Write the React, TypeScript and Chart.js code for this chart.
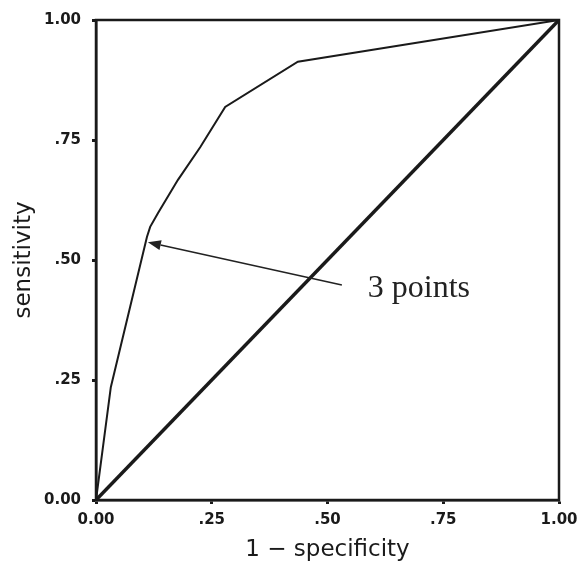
import React, { useEffect, useRef } from "react";
import { Chart, registerables } from "chart.js";

Chart.register(...registerables);

// ROC curve (1 - specificity, sensitivity)
const rocX = [0, 0.032, 0.11, 0.117, 0.134, 0.177, 0.225, 0.279, 0.436, 1];
const rocY = [0, 0.235, 0.548, 0.569, 0.598, 0.667, 0.735, 0.819, 0.913, 1];
// chance diagonal
const diagX = [0, 1];
const diagY = [0, 1];

const tickValues = [0, 0.25, 0.5, 0.75, 1];
const tickLabels = ["0.00", ".25", ".50", ".75", "1.00"];

const xTitle = "1 − specificity";
const yTitle = "sensitivity";
const annotationText = "3 points";
const arrowTail = [0.531, 0.448];
const arrowHead = [0.112, 0.537];
const labelPos = [0.587, 0.423];

const TICK_FONT = { family: "'DejaVu Sans', sans-serif", size: 15, weight: "bold" as const };
const TITLE_FONT = { family: "'DejaVu Sans', sans-serif", size: 23, weight: "normal" as const, lineHeight: 1.0 };

const frameAndArrowPlugin = {
  id: "frameAndArrow",
  afterDatasetsDraw(chart: any) {
    const { ctx, chartArea, scales } = chart;
    const xs = scales.x;
    const ys = scales.y;
    ctx.save();
    // frame
    ctx.strokeStyle = "#1a1a1a";
    ctx.lineWidth = 2.5;
    ctx.strokeRect(chartArea.left, chartArea.top, chartArea.right - chartArea.left, chartArea.bottom - chartArea.top);

    // arrow
    const tx = xs.getPixelForValue(arrowTail[0]);
    const ty = ys.getPixelForValue(arrowTail[1]);
    const hx = xs.getPixelForValue(arrowHead[0]);
    const hy = ys.getPixelForValue(arrowHead[1]);
    const ang = Math.atan2(hy - ty, hx - tx);
    const headLen = 13;
    const headHalf = 5;
    const bx = hx - headLen * Math.cos(ang);
    const by = hy - headLen * Math.sin(ang);
    ctx.strokeStyle = "#222";
    ctx.lineWidth = 1.6;
    ctx.beginPath();
    ctx.moveTo(tx, ty);
    ctx.lineTo(bx, by);
    ctx.stroke();
    ctx.fillStyle = "#222";
    ctx.beginPath();
    ctx.moveTo(hx, hy);
    ctx.lineTo(bx + headHalf * Math.sin(ang), by - headHalf * Math.cos(ang));
    ctx.lineTo(bx - headHalf * Math.sin(ang), by + headHalf * Math.cos(ang));
    ctx.closePath();
    ctx.fill();

    // label
    ctx.fillStyle = "#222";
    ctx.font = "32px 'Liberation Serif', 'DejaVu Serif', serif";
    ctx.textAlign = "left";
    ctx.textBaseline = "alphabetic";
    ctx.fillText(annotationText, xs.getPixelForValue(labelPos[0]), ys.getPixelForValue(labelPos[1]));
    ctx.restore();
  },
};

export default function App() {
  const canvasRef = useRef<HTMLCanvasElement | null>(null);

  useEffect(() => {
    const canvas = canvasRef.current;
    if (!canvas) return;
    const chart = new Chart(canvas, {
      type: "scatter",
      data: {
        datasets: [
          {
            data: diagX.map((x, i) => ({ x, y: diagY[i] })),
            showLine: true,
            borderColor: "#1a1a1a",
            borderWidth: 3.5,
            pointRadius: 0,
            order: 2,
          },
          {
            data: rocX.map((x, i) => ({ x, y: rocY[i] })),
            showLine: true,
            borderColor: "#1a1a1a",
            borderWidth: 2,
            pointRadius: 0,
            order: 1,
          },
        ],
      },
      options: {
        responsive: false,
        animation: false,
        devicePixelRatio: 1,
        layout: { padding: { left: 0, right: 18, top: 20, bottom: 0 } },
        plugins: {
          legend: { display: false },
          tooltip: { enabled: false },
        },
        scales: {
          x: {
            type: "linear",
            min: 0,
            max: 1,
            afterBuildTicks: (s: any) => {
              s.ticks = tickValues.map((v) => ({ value: v }));
            },
            afterFit: (s: any) => {
              s.height = 63;
              s.paddingLeft = 0;
              s.paddingRight = 0;
            },
            ticks: {
              callback: (_v: any, i: number) => tickLabels[i],
              font: TICK_FONT,
              color: "#1a1a1a",
              padding: 7,
              maxRotation: 0,
            },
            grid: {
              drawOnChartArea: false,
              drawTicks: true,
              tickLength: 4,
              tickWidth: 3,
              tickColor: "#1a1a1a",
            },
            border: { display: true, color: "#1a1a1a", width: 2.5 },
            title: {
              display: true,
              text: xTitle,
              font: TITLE_FONT,
              color: "#1a1a1a",
              padding: { top: 0, bottom: 1 },
            },
          },
          y: {
            type: "linear",
            min: 0,
            max: 1,
            afterBuildTicks: (s: any) => {
              s.ticks = tickValues.map((v) => ({ value: v }));
            },
            afterFit: (s: any) => {
              s.width = 96;
              s.paddingTop = 0;
              s.paddingBottom = 0;
            },
            ticks: {
              callback: (_v: any, i: number) => tickLabels[i],
              font: TICK_FONT,
              color: "#1a1a1a",
              padding: 11,
            },
            grid: {
              drawOnChartArea: false,
              drawTicks: true,
              tickLength: 4,
              tickWidth: 3,
              tickColor: "#1a1a1a",
            },
            border: { display: true, color: "#1a1a1a", width: 2.5 },
            title: {
              display: true,
              text: yTitle,
              font: TITLE_FONT,
              color: "#1a1a1a",
              padding: { top: 13, bottom: 0 },
            },
          },
        },
      },
      plugins: [frameAndArrowPlugin],
    });
    return () => chart.destroy();
  }, []);

  return (
    <div style={{ position: "absolute", left: 0, top: 0, width: 577, height: 563, background: "#fff" }}>
      <canvas ref={canvasRef} width={577} height={563} />
    </div>
  );
}
